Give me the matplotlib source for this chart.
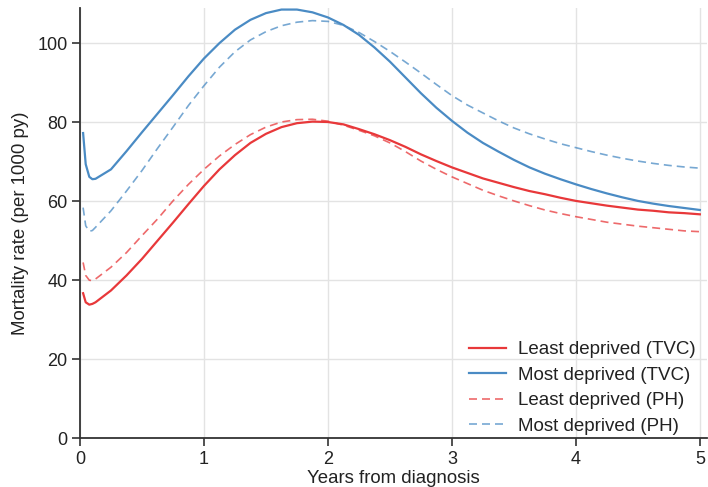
import numpy as np
import matplotlib.pyplot as plt

plt.rcParams['font.family'] = ['Liberation Sans', 'DejaVu Sans']

# years since diagnosis
years = [0.025, 0.046, 0.075, 0.1, 0.125, 0.25, 0.375, 0.5, 0.625, 0.75, 0.875,
         1.0, 1.125, 1.25, 1.375, 1.5, 1.625, 1.75, 1.875, 2.0, 2.125, 2.25,
         2.375, 2.5, 2.625, 2.75, 2.875, 3.0, 3.125, 3.25, 3.375, 3.5, 3.625,
         3.75, 3.875, 4.0, 4.125, 4.25, 4.375, 4.5, 4.625, 4.75, 4.875, 5.0]

# mortality rate per 1000 person-years
least_tvc = [36.7, 34.4, 33.8, 34.0, 34.4, 37.4, 41.2, 45.4, 50.0, 54.6, 59.3,
             63.9, 68.1, 71.7, 74.8, 77.1, 78.8, 79.8, 80.2, 80.1, 79.5, 78.3,
             77.0, 75.5, 73.8, 71.9, 70.2, 68.6, 67.2, 65.8, 64.7, 63.6, 62.6,
             61.8, 60.9, 60.1, 59.5, 58.9, 58.4, 57.9, 57.6, 57.2, 57.0, 56.7]
most_tvc = [77.3, 69.4, 66.2, 65.6, 65.7, 68.1, 72.7, 77.5, 82.2, 86.9, 91.7,
            96.2, 100.1, 103.5, 106.0, 107.7, 108.6, 108.6, 107.9, 106.6, 104.7, 102.2,
            99.0, 95.4, 91.4, 87.4, 83.7, 80.4, 77.4, 74.8, 72.6, 70.5, 68.6,
            67.0, 65.6, 64.3, 63.1, 62.0, 61.0, 60.1, 59.4, 58.8, 58.3, 57.8]
least_ph = [44.5, 41.2, 40.0, 39.9, 40.3, 43.3, 47.0, 51.3, 55.5, 60.1, 64.3,
            68.1, 71.5, 74.4, 76.9, 78.8, 80.1, 80.7, 80.8, 80.3, 79.3, 78.0,
            76.6, 74.8, 72.6, 70.2, 68.1, 66.2, 64.5, 62.8, 61.4, 60.1, 58.9,
            57.8, 56.9, 56.1, 55.4, 54.7, 54.2, 53.7, 53.3, 52.9, 52.5, 52.3]
most_ph = [58.4, 53.8, 52.4, 52.6, 53.4, 57.6, 62.6, 67.8, 73.4, 78.8, 84.3,
           89.3, 94.0, 97.9, 100.9, 103.0, 104.5, 105.4, 105.8, 105.6, 104.6, 102.8,
           100.5, 98.0, 95.3, 92.5, 89.6, 86.8, 84.4, 82.4, 80.4, 78.6, 77.1,
           75.8, 74.6, 73.6, 72.6, 71.7, 70.9, 70.2, 69.6, 69.1, 68.7, 68.4]

RED = "#e8383a"
BLUE = "#4a8bc4"
DASH = (0, (4.8, 3))

fig = plt.figure(figsize=(7.08, 4.87), dpi=100)
ax = fig.add_axes([0.113, 0.1006, 0.886, 0.883])

ax.plot(years, least_tvc, color=RED, lw=1.6, label="Least deprived (TVC)")
ax.plot(years, most_tvc, color=BLUE, lw=1.6, label="Most deprived (TVC)")
ax.plot(years, least_ph, color=RED, lw=1.2, ls=DASH, alpha=0.75,
        label="Least deprived (PH)")
ax.plot(years, most_ph, color=BLUE, lw=1.2, ls=DASH, alpha=0.75,
        label="Most deprived (PH)")

ax.set_xlim(0, 5.06)
ax.set_ylim(0, 109)
ax.set_xticks([0, 1, 2, 3, 4, 5])
ax.set_yticks([0, 20, 40, 60, 80, 100])
ax.grid(True, color="#e3e3e3", lw=1)
ax.set_axisbelow(True)

for s in ["top", "right"]:
    ax.spines[s].set_visible(False)
for s in ["left", "bottom"]:
    ax.spines[s].set_color("#333333")
    ax.spines[s].set_linewidth(1.3)
ax.tick_params(direction="out", length=6, width=1.2, color="#333333",
               labelsize=13, labelcolor="#222222", pad=3)

ax.set_xlabel("Years from diagnosis", fontsize=13.4, color="#222222", labelpad=2)
ax.set_ylabel("Mortality rate (per 1000 py)", fontsize=13.4, color="#222222", labelpad=6)

leg = ax.legend(loc="lower right", bbox_to_anchor=(0.991, -0.005), frameon=False,
                fontsize=13.5, handlelength=2.0, handletextpad=0.65,
                labelspacing=0.44, borderaxespad=0.0, borderpad=0.3)
for t in leg.get_texts():
    t.set_color("#222222")

fig.savefig("out.png", dpi=100)
